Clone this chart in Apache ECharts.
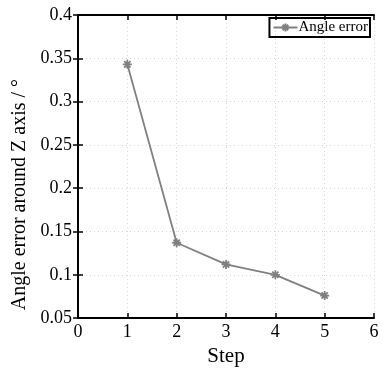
<!DOCTYPE html>
<html><head><meta charset="utf-8">
<script src="https://cdn.jsdelivr.net/npm/echarts@6/dist/echarts.min.js"></script>
<style>html,body{margin:0;padding:0;background:#fff}#c{width:382px;height:372px}</style>
</head><body><div id="c"></div>
<script>
const steps = [1, 2, 3, 4, 5];
const angleError = [0.343, 0.137, 0.112, 0.100, 0.076];
const seriesName = 'Angle error';
const xName = 'Step';
const yName = 'Angle error around Z axis / °';

const font = 'Liberation Serif';
const star = 'path://M0,-5L0,5M-5,0L5,0M-3.5,-3.5L3.5,3.5M-3.5,3.5L3.5,-3.5';
const chart = echarts.init(document.getElementById('c'), null, {renderer: 'canvas'});
const axisCommon = {
  axisLine: {show: true, lineStyle: {color: '#000', width: 2}},
  axisTick: {show: true, inside: true, length: 5, lineStyle: {color: '#000', width: 1.5}},
};
chart.setOption({
  animation: false,
  textStyle: {fontFamily: font},
  grid: {left: 78, right: 8, top: 15, bottom: 50},
  legend: {
    right: 12, top: 18, itemGap: 0,
    padding: [2, 2, 2, 3],
    borderColor: '#000', borderWidth: 2,
    itemWidth: 24, itemHeight: 10,
    textStyle: {fontFamily: font, fontSize: 15, color: '#000', padding: [0, 0, 0, -4]},
    data: [seriesName]
  },
  xAxis: [{
    type: 'value', min: 0, max: 6, interval: 1, position: 'bottom',
    name: xName, nameLocation: 'middle', nameGap: 26,
    nameTextStyle: {fontFamily: font, fontSize: 21, color: '#000'},
    ...axisCommon,
    axisLabel: {fontFamily: font, fontSize: 18, color: '#000', margin: 5},
    splitLine: {show: true, lineStyle: {color: '#d8d8d8', type: [1, 3], width: 1}}
  }, {
    type: 'value', min: 0, max: 6, interval: 1, position: 'top',
    ...axisCommon, axisLabel: {show: false}, splitLine: {show: false}
  }],
  yAxis: [{
    type: 'value', min: 0.05, max: 0.4, interval: 0.05, position: 'left',
    name: yName, nameLocation: 'middle', nameGap: 40,
    nameTextStyle: {fontFamily: font, fontSize: 20, color: '#000', padding: [0, 56, 0, 0]},
    ...axisCommon,
    axisLabel: {fontFamily: font, fontSize: 18, color: '#000', margin: 6},
    splitLine: {show: true, lineStyle: {color: '#d8d8d8', type: [1, 3], width: 1}}
  }, {
    type: 'value', min: 0.05, max: 0.4, interval: 0.05, position: 'right',
    ...axisCommon, axisLabel: {show: false}, splitLine: {show: false}
  }],
  series: [{
    name: seriesName, type: 'line',
    data: steps.map((s, i) => [s, angleError[i]]),
    symbol: star, symbolSize: 9, showSymbol: true,
    lineStyle: {color: '#808080', width: 1.8},
    itemStyle: {color: '#808080', borderColor: '#808080', borderWidth: 1.8}
  }]
});
</script></body></html>
